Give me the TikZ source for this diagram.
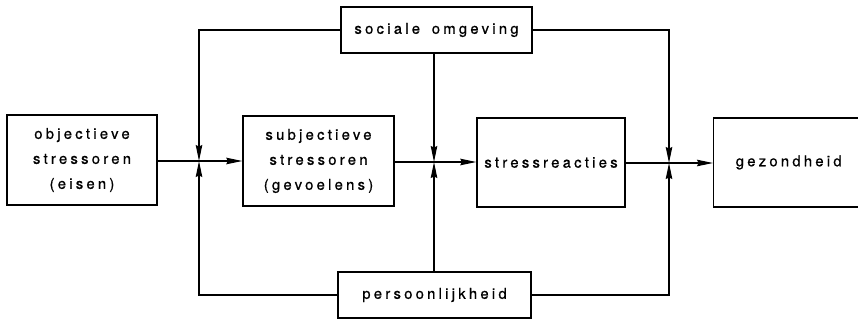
\documentclass[tikz,border=0pt]{standalone}
\usepackage{fontspec}
\setmainfont{TeX Gyre Heros}[LetterSpace=22,WordSpace=1.6,FakeBold=0.8]
\usetikzlibrary{arrows.meta}
\begin{document}
\begin{tikzpicture}[x=1pt,y=-1pt,
  box/.style={draw, line width=1.4pt, align=center, inner sep=0pt, font=\fontsize{14.8}{25}\selectfont},
  conn/.style={line width=1.3pt},
  arr/.style={conn, -{Stealth[length=16pt,width=6.5pt,inset=1.5pt]}}]
\useasboundingbox (0,0) rectangle (858,321);
\node[box, minimum width=150pt, minimum height=90pt] (obj) at (82,160) {objectieve\\stressoren\\(eisen)};
\node[box, minimum width=151pt, minimum height=90pt] (subj) at (318.5,161) {subjectieve\\stressoren\\(gevoelens)};
\node[box, minimum width=148pt, minimum height=89pt] (reac) at (551,162.5) {stressreacties};
\node[box, minimum width=150pt, minimum height=89pt, anchor=west] (gez) at (713,162.5) {gezondheid};
\node[box, minimum width=191pt, minimum height=46pt] (soc) at (436.5,30) {sociale omgeving};
\node[box, minimum width=193pt, minimum height=46pt] (pers) at (434.5,295) {persoonlijkheid};
\coordinate (j1) at (199,161);
\coordinate (j2) at (434,162);
\coordinate (j3) at (669,163);
% main chain
\draw[arr] (obj.east |- j1) -- (subj.west |- j1);
\draw[arr] (subj.east |- j2) -- (reac.west |- j2);
\draw[arr] (reac.east |- j3) -- (gez.west |- j3);
% sociale omgeving
\draw[arr] (soc.west) -| (j1);
\draw[arr] (soc.south -| j2) -- (j2);
\draw[arr] (soc.east) -| (j3);
% persoonlijkheid
\draw[arr] (pers.west) -| (j1);
\draw[arr] (pers.north -| j2) -- (j2);
\draw[arr] (pers.east) -| (j3);
\end{tikzpicture}
\end{document}
